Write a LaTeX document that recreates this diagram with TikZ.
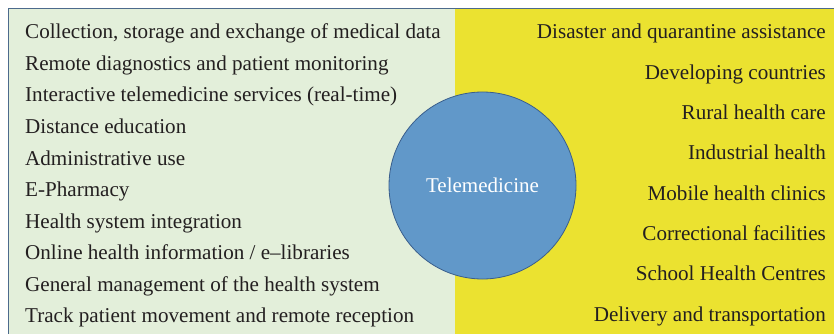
\documentclass[tikz,border=0pt]{standalone}
\usepackage{fontspec}
\setmainfont{Liberation Serif}
\definecolor{leftgreen}{HTML}{E3EFDA}
\definecolor{rightyellow}{HTML}{EBE230}
\definecolor{framegray}{HTML}{4C6A8C}
\definecolor{hubblue}{HTML}{6198C9}
\definecolor{hubedge}{HTML}{3A5E8C}
\definecolor{inktext}{HTML}{231F20}
\tikzset{
  useitem/.style={anchor=base west,text=inktext,inner sep=0pt,font=\fontsize{21.1}{25}\selectfont},
  siteitem/.style={anchor=base east,text=inktext,inner sep=0pt,font=\fontsize{21.1}{25}\selectfont},
  hub/.style={circle,draw=hubedge,line width=0.8pt,fill=hubblue,minimum size=187pt,inner sep=0pt,text=white,font=\fontsize{21}{25}\selectfont}
}
\begin{document}
\begin{tikzpicture}[x=1pt,y=-1pt]
  \useasboundingbox (0,0) rectangle (834,334);
  \clip (0,0) rectangle (834,334);
  % the two panels
  \fill[leftgreen] (8,9) rectangle (455,340);
  \fill[rightyellow] (455,9) rectangle (840,340);
  \draw[framegray,line width=1pt] (8,340) -- (8,9) -- (840,9);
  % uses
  \node[useitem] (use1) at (25,39) {Collection, storage and exchange of medical data};
  \node[useitem] (use2) at (25,70.5) {Remote diagnostics and patient monitoring};
  \node[useitem] (use3) at (25,102) {Interactive telemedicine services (real-time)};
  \node[useitem] (use4) at (25,133.5) {Distance education};
  \node[useitem] (use5) at (25,165) {Administrative use};
  \node[useitem] (use6) at (25,196.5) {E-Pharmacy};
  \node[useitem] (use7) at (25,228) {Health system integration};
  \node[useitem] (use8) at (25,259.5) {Online health information / e--libraries};
  \node[useitem] (use9) at (25,291) {General management of the health system};
  \node[useitem] (use10) at (25,322.5) {Track patient movement and remote reception};
  % settings
  \node[siteitem] (site1) at (826,39) {Disaster and quarantine assistance};
  \node[siteitem] (site2) at (826,79.3) {Developing countries};
  \node[siteitem] (site3) at (826,119.6) {Rural health care};
  \node[siteitem] (site4) at (826,159.9) {Industrial health};
  \node[siteitem] (site5) at (826,200.2) {Mobile health clinics};
  \node[siteitem] (site6) at (826,240.5) {Correctional facilities};
  \node[siteitem] (site7) at (826,280.8) {School Health Centres};
  \node[siteitem] (site8) at (826,321.1) {Delivery and transportation};
  % centre
  \node[hub] (tele) at (482.5,185.5) {Telemedicine};
\end{tikzpicture}
\end{document}
